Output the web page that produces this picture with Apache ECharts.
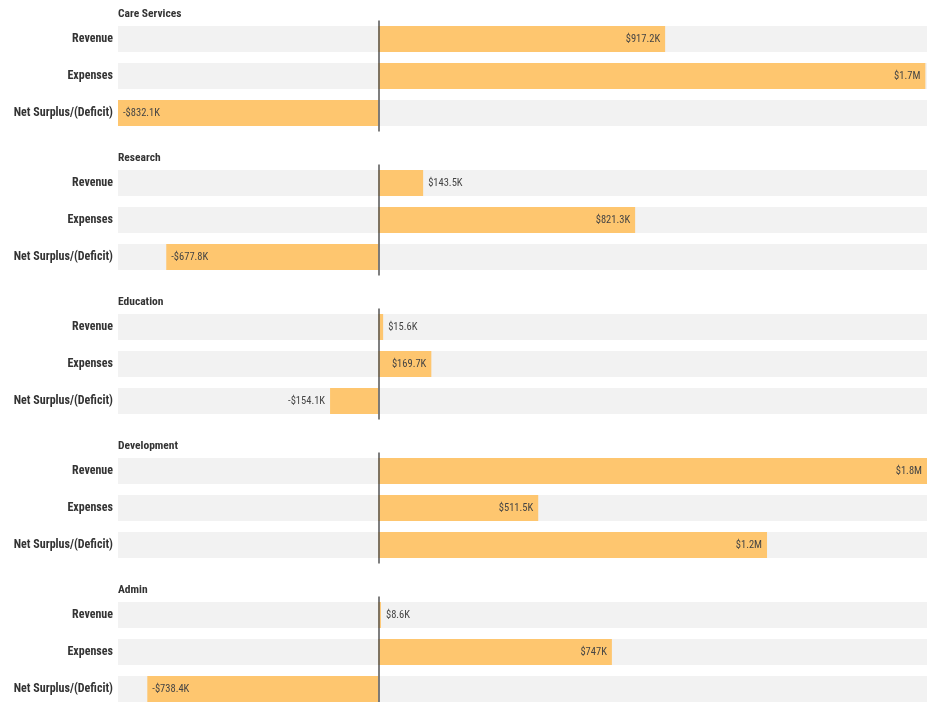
<!DOCTYPE html>
<html>
  <head>
    <meta charset="utf-8" />
    <title>Program Revenue vs Expenses</title>
    <script src="https://cdn.jsdelivr.net/npm/echarts/dist/echarts.min.js"></script>
    <style>
      html, body { margin: 0; padding: 0; background: #fff; }
    </style>
  </head>
  <body>
    <div id="main" style="width: 935px; height: 702px"></div>
    <script type="text/javascript">
      var chart = echarts.init(document.getElementById('main'));

      // programs and row names
      var groups = ['Care Services', 'Research', 'Education', 'Development', 'Admin'];
      var rowLabels = ['Revenue', 'Expenses', 'Net Surplus/(Deficit)'];

      // values in thousands of dollars
      var revenue = [917.2, 143.5, 15.6, 1754.5, 8.6];
      var expenses = [1749.3, 821.3, 169.7, 511.5, 747.0];
      var netSurplus = [-832.1, -677.8, -154.1, 1243.0, -738.4];

      var allValues = revenue.concat(expenses, netSurplus);
      var xMin = Math.min.apply(null, allValues);
      var xMax = Math.max.apply(null, allValues);

      var FONT = "'Roboto Condensed', 'Liberation Sans Narrow', Roboto, sans-serif";

      function fmt(v) {
        var a = Math.abs(v);
        var s;
        if (a >= 1000) {
          s = (a / 1000).toFixed(1) + 'M';
        } else {
          s = a.toFixed(1).replace(/\.0$/, '') + 'K';
        }
        return (v < 0 ? '-' : '') + '$' + s;
      }

      var grids = [], xAxes = [], yAxes = [], series = [], titles = [];
      for (var i = 0; i < groups.length; i++) {
        var gridTop = 20.5 + i * 144;
        // last block runs slightly past the bottom edge, like the source
        grids.push({ left: 118, right: 8, top: gridTop, height: 111, outerBoundsMode: 'none' });
        titles.push({
          text: groups[i],
          left: 118,
          top: gridTop - 12,
          padding: 0,
          textStyle: { fontSize: 11.5, fontWeight: 'bold', color: '#333', fontFamily: FONT }
        });
        xAxes.push({ gridIndex: i, type: 'value', min: xMin, max: xMax, show: false });
        yAxes.push({
          gridIndex: i,
          type: 'category',
          inverse: true,
          data: rowLabels,
          axisLine: { show: false },
          axisTick: { show: false },
          axisLabel: { margin: 5, fontSize: 12, fontWeight: 'bold', color: '#333', fontFamily: FONT }
        });
        var vals = [revenue[i], expenses[i], netSurplus[i]];
        series.push({
          type: 'bar',
          xAxisIndex: i,
          yAxisIndex: i,
          barWidth: 26,
          showBackground: true,
          backgroundStyle: { color: '#f2f2f2' },
          itemStyle: { color: '#fec66f' },
          data: vals.map(function (v) {
            var inside = Math.abs(v) >= 160;
            return {
              value: v,
              label: { position: v >= 0 ? (inside ? 'insideRight' : 'right') : (inside ? 'insideLeft' : 'left') }
            };
          }),
          label: {
            show: true,
            distance: 5,
            fontSize: 10.5,
            color: '#444',
            fontFamily: FONT,
            formatter: function (p) { return fmt(p.value); }
          },
          markLine: {
            silent: true,
            symbol: 'none',
            label: { show: false },
            lineStyle: { color: '#555', width: 1.5, type: 'solid' },
            data: [{ xAxis: 0 }]
          }
        });
      }

      chart.setOption({
        animation: false,
        title: titles,
        grid: grids,
        xAxis: xAxes,
        yAxis: yAxes,
        series: series
      });
    </script>
  </body>
</html>
